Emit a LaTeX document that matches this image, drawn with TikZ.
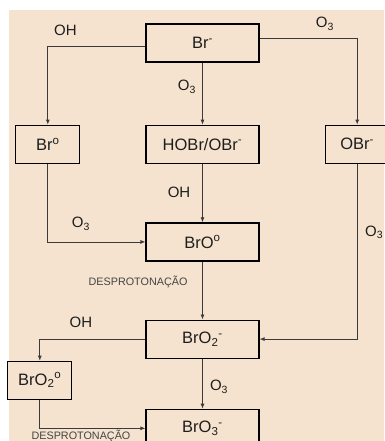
\documentclass[tikz,border=0pt]{standalone}
\usepackage{fontspec}
\setmainfont{Liberation Sans}
\usetikzlibrary{arrows.meta,positioning}
\definecolor{brBack}{HTML}{F5E3CF}
\definecolor{brLine}{HTML}{3A3A3A}
\definecolor{brInk}{HTML}{1E1E1E}
\definecolor{brSoft}{HTML}{444444}
\tikzset{
  brbox/.style={
    rectangle, draw=black, line width=1.2pt, fill=brBack, text=brInk,
    font=\fontsize{16.5}{18}\selectfont, align=center, inner sep=0pt,
    minimum width=113pt, minimum height=38pt
  },
  brsmall/.style={brbox, minimum width=64pt},
  brlink/.style={-{Latex[length=5pt,width=4pt]}, draw=brLine, line width=0.8pt},
  brlabel/.style={font=\fontsize{15}{17}\selectfont, text=brInk, inner sep=0pt},
  brnote/.style={font=\fontsize{10.8}{12}\selectfont, text=brSoft, inner sep=0pt}
}
\begin{document}
\begin{tikzpicture}[x=1pt,y=-1pt]

% Fundo
\useasboundingbox (0,0) rectangle (384,441);
\fill[brBack] (9,10) rectangle (384,441);

% Coluna central
\node[brbox] (brm) at (202.5,43) {Br\textsuperscript{-}};
\node[brbox, below=62pt of brm] (hobr) {HOBr/OBr\textsuperscript{-}};
\node[brbox, below=58.5pt of hobr] (broz) {BrO\textsuperscript{o}};
\node[brbox, below=58pt of broz] (bro2) {BrO\textsubscript{2}\textsuperscript{-}};
\node[brbox, below=50pt of bro2] (bro3) {BrO\textsubscript{3}\textsuperscript{-}};

% Caixas laterais
\node[brsmall, left=65pt of hobr] (brz) {Br\textsuperscript{o}};
\node[brsmall, right=65pt of hobr] (obr) {OBr\textsuperscript{-}};
\node[brsmall, below left=2pt and 73pt of bro2] (bro2z) {BrO\textsubscript{2}\textsuperscript{o}};

% Ligações
\draw[brlink] ([yshift=-3.7pt]brm.west) -| node[brlabel, pos=.41, yshift=16.7pt] {OH} (brz.north);
\draw[brlink] ([yshift=5pt]brm.east) -| node[brlabel, pos=.335, yshift=14pt] {O\textsubscript{3}} (obr.north);
\draw[brlink] (brm) -- node[brlabel, pos=.39, xshift=-15.5pt] {O\textsubscript{3}} (hobr);
\draw[brlink] (hobr) -- node[brlabel, pos=.49, xshift=-23.5pt] {OH} (broz);
\draw[brlink] (brz.south) |- node[brlabel, pos=.67, yshift=18pt] {O\textsubscript{3}} (broz.west);
\draw[brlink] (broz) -- node[brnote, pos=.36, xshift=-64.5pt] {DESPROTONAÇÃO} (bro2);
\draw[brlink] (obr.south) |- node[brlabel, pos=.195, xshift=17pt] {O\textsubscript{3}} (bro2.east);
\draw[brlink] (bro2.west) -| node[brlabel, pos=.305, yshift=16.5pt] {OH} (bro2z.north);
\draw[brlink] (bro2) -- node[brlabel, pos=.56, xshift=16.5pt] {O\textsubscript{3}} (bro3);
\draw[brlink] (bro2z.south) |- node[brnote, pos=.695, yshift=-8pt] {DESPROTONAÇÃO} (bro3.west);

\end{tikzpicture}
\end{document}
